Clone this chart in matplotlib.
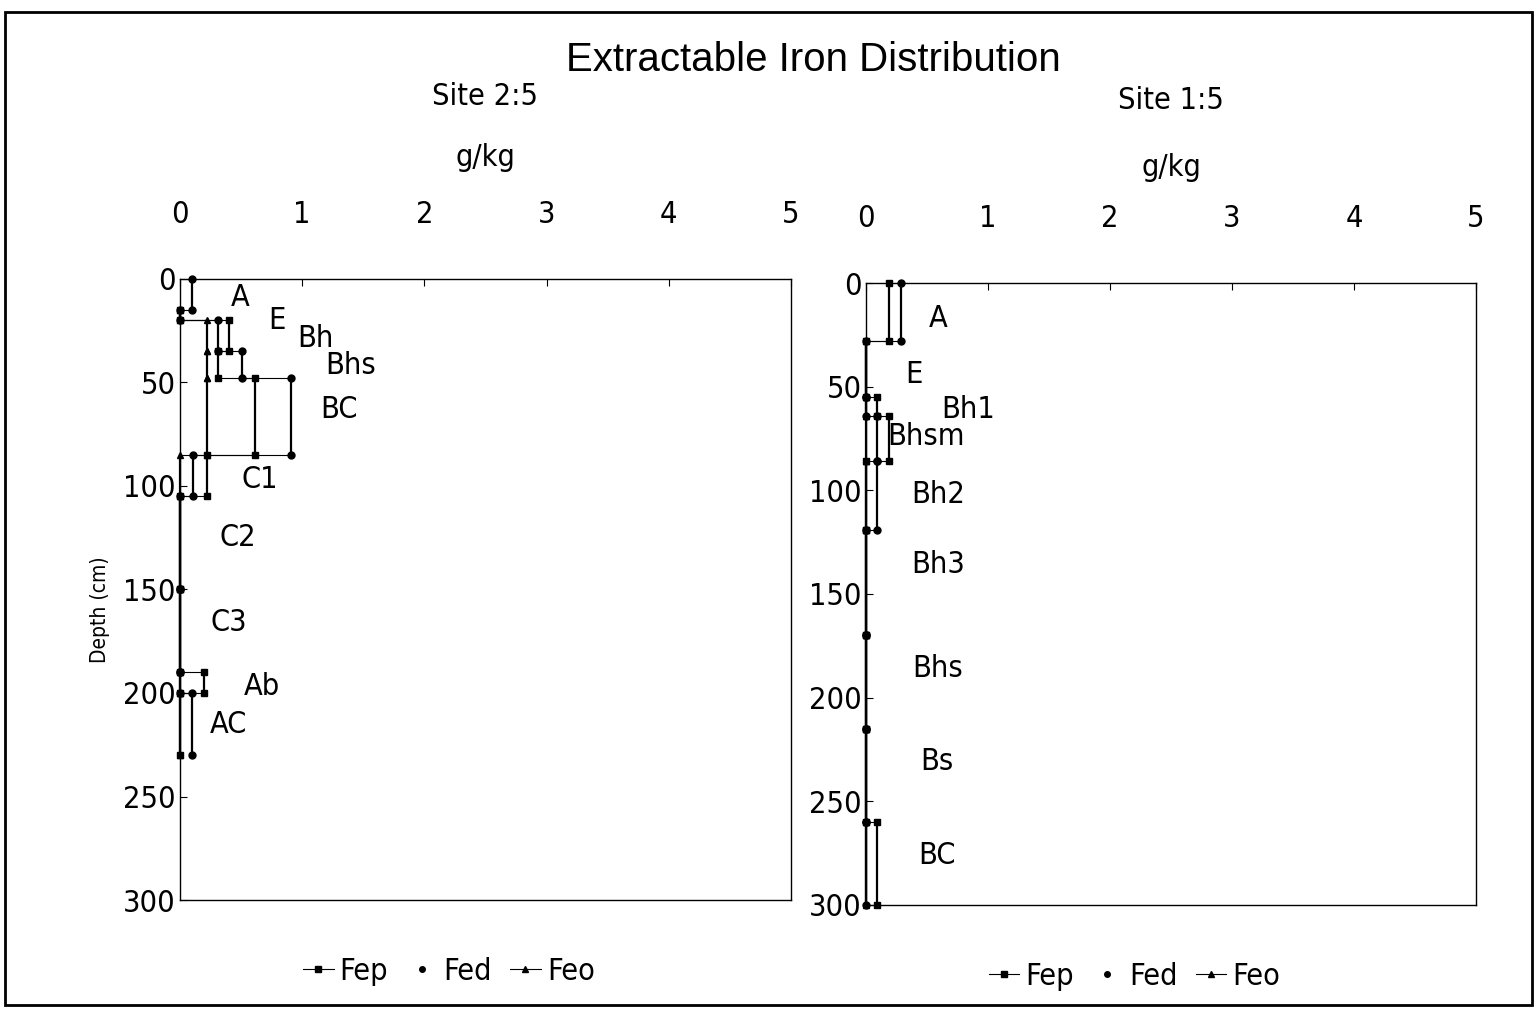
import matplotlib
matplotlib.use("Agg")
import matplotlib.pyplot as plt
import numpy as np
from matplotlib.lines import Line2D
from matplotlib.patches import Rectangle

plt.rcParams['font.family'] = ['DejaVu Sans']
plt.rcParams['font.stretch'] = 'condensed'

nan = np.nan

# Site 2:5 (left panel), depth in cm, iron in g/kg
s25_horizons = ["A", "E", "Bh", "Bhs", "BC", "C1", "C2", "C3", "Ab", "AC"]
s25_top = [0, 15, 20, 35, 48, 85, 105, 150, 190, 200]
s25_bottom = [15, 20, 35, 48, 85, 105, 150, 190, 200, 230]
s25_fep = [nan, 0, 0.40, 0.31, 0.61, 0.22, 0, 0, 0.20, 0]
s25_fed = [0.10, 0, 0.31, 0.51, 0.91, 0.11, 0, 0, 0, 0.10]
s25_feo = [nan, 0, 0.22, 0.22, 0.22, 0, 0, 0, 0, 0]

# Site 1:5 (right panel)
s15_horizons = ["A", "E", "Bh1", "Bhsm", "Bh2", "Bh3", "Bhs", "Bs", "BC"]
s15_top = [0, 28, 55, 64, 86, 119, 170, 215, 260]
s15_bottom = [28, 55, 64, 86, 119, 170, 215, 260, 300]
s15_fep = [0.19, 0, 0.09, 0.19, 0, 0, 0, 0, 0.09]
s15_fed = [0.29, 0, 0, 0.09, 0.09, 0, 0, 0, 0]
s15_feo = [nan, 0, 0, 0, 0, 0, 0, 0, 0]

# where the horizon names are written (x in g/kg, y in cm)
s25_label_x = [0.49, 0.79, 1.11, 1.40, 1.30, 0.65, 0.47, 0.40, 0.67, 0.40]
s25_label_y = [9, 20, 29, 42, 63, 97, 125, 166, 197, 215]
s15_label_x = [0.59, 0.39, 0.84, 0.49, 0.59, 0.59, 0.59, 0.58, 0.58]
s15_label_y = [17, 44, 61, 74, 102, 136, 186, 231, 276]

fs = 22


def draw_site(ax, top, bottom, fep, fed, feo, names, lx, ly):
    for vals, mk in [(fep, 's'), (feo, '^'), (fed, 'o')]:
        vals = np.array(vals, float)
        for t, b, v in zip(top, bottom, vals):
            if np.isnan(v):
                continue
            ax.plot([v, v], [t, b], color='k', lw=1.6, marker=mk, ms=5, clip_on=False)
        for i in range(len(vals) - 1):
            a, c = vals[i], vals[i + 1]
            if np.isnan(a) or np.isnan(c) or a == c:
                continue
            ax.plot([a, c], [bottom[i], bottom[i]], color='k', lw=0.8, clip_on=False)
    for n, x, y in zip(names, lx, ly):
        ax.text(x, y, n, fontsize=fs, ha='center', va='center')

    ax.set_xlim(0, 5)
    ax.set_ylim(300, 0)
    ax.xaxis.tick_top()
    ax.set_xticks(range(0, 6))
    ax.set_yticks(range(0, 301, 50))
    ax.tick_params(axis='x', direction='in', length=5, labelsize=fs, pad=36)
    ax.tick_params(axis='y', direction='in', length=5, labelsize=fs, pad=3)
    for sp in ax.spines.values():
        sp.set_linewidth(1.0)
    handles = [Line2D([], [], color='k', lw=0.8, marker='s', ms=4),
               Line2D([], [], color='k', lw=0, marker='o', ms=4),
               Line2D([], [], color='k', lw=0.8, marker='^', ms=4)]
    ax.legend(handles, ["Fep", "Fed", "Feo"], loc='center', bbox_to_anchor=(0.44, -0.115),
              ncol=3, frameon=False, fontsize=fs, handlelength=1.0,
              handletextpad=0.2, columnspacing=0.6)


fig = plt.figure(figsize=(15.37, 10.10), dpi=100)
ax1 = fig.add_axes([0.1171, 0.1089, 0.3975, 0.6149])
ax2 = fig.add_axes([0.5634, 0.1040, 0.3969, 0.6158])

draw_site(ax1, s25_top, s25_bottom, s25_fep, s25_fed, s25_feo, s25_horizons, s25_label_x, s25_label_y)
draw_site(ax2, s15_top, s15_bottom, s15_fep, s15_fed, s15_feo, s15_horizons, s15_label_x, s15_label_y)

ax1.text(0.5, 1.293, "Site 2:5", transform=ax1.transAxes, ha='center', va='center', fontsize=fs)
ax1.text(0.5, 1.195, "g/kg", transform=ax1.transAxes, ha='center', va='center', fontsize=fs)
ax2.text(0.5, 1.293, "Site 1:5", transform=ax2.transAxes, ha='center', va='center', fontsize=fs)
ax2.text(0.5, 1.186, "g/kg", transform=ax2.transAxes, ha='center', va='center', fontsize=fs)

fig.text(0.065, 0.396, "Depth (cm)", rotation=90, ha='center', va='center', fontsize=15)
fig.text(0.529, 0.9406, "Extractable Iron Distribution", ha='center', va='center',
         fontsize=29, family=['Liberation Sans', 'DejaVu Sans'], stretch='normal')

fig.patches.append(Rectangle((0.0033, 0.005), 0.9935, 0.983, transform=fig.transFigure,
                             fill=False, lw=2, edgecolor='k'))

fig.savefig("out.png", dpi=100)
